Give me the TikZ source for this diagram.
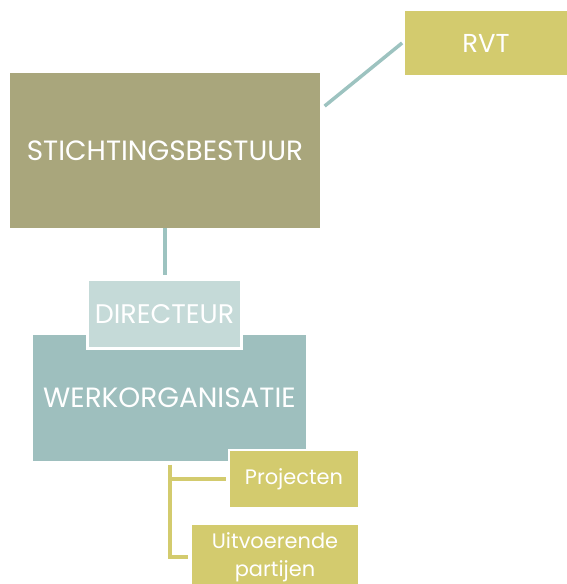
\documentclass[tikz,border=0pt]{standalone}
\usepackage{fontspec}
\setmainfont{Poppins}
\usetikzlibrary{calc}
\definecolor{khaki}{HTML}{A9A67C}
\definecolor{mustard}{HTML}{D3CB6E}
\definecolor{seagreen}{HTML}{9EBFBE}
\definecolor{palesea}{HTML}{C5DAD8}
\definecolor{teal}{HTML}{9DC3C0}

\begin{document}
\begin{tikzpicture}[x=1bp,y=1bp,
  box/.style={rectangle,inner sep=0pt,text=white,align=center,font=\fontsize{28}{32}\selectfont},
  smallbox/.style={box,draw=white,line width=2bp,font=\fontsize{21}{28}\selectfont}]
\useasboundingbox (0,0) rectangle (567,584);
\node (stb) [box,fill=khaki,minimum width=312,minimum height=155] at (165,433.5) {STICHTINGSBESTUUR};
\node (rvt) [box,fill=mustard,minimum width=162,minimum height=64,font=\fontsize{26}{30}\selectfont] at (486,541) {RVT};
\node (werk) [box,fill=seagreen,minimum width=275,minimum height=126] at (169.5,186) {WERKORGANISATIE};
\draw [teal,line width=4bp] (stb.south) -- ++(0,-47);
\draw [teal,line width=3.5bp] ($(stb.north east)+(4,-33)$) -- ($(rvt.west)+(-3,0)$);
\node (dir) [box,fill=palesea,draw=white,line width=3bp,minimum width=155,minimum height=70,font=\fontsize{27}{30}\selectfont] at (164.5,270) {DIRECTEUR};
\node (proj) [smallbox,fill=mustard,minimum width=130,minimum height=58] at (294,105) {Projecten};
\node (uitv) [smallbox,fill=mustard,minimum width=168,minimum height=66] at (275,27) {Uitvoerende\\partijen};
\draw [mustard,line width=4bp,shorten >=2bp] ($(werk.south)+(0,-4)$) |- (proj.west);
\draw [mustard,line width=4bp,shorten >=2bp] ($(werk.south)+(0,-4)$) |- (uitv.west);
\end{tikzpicture}
\end{document}
